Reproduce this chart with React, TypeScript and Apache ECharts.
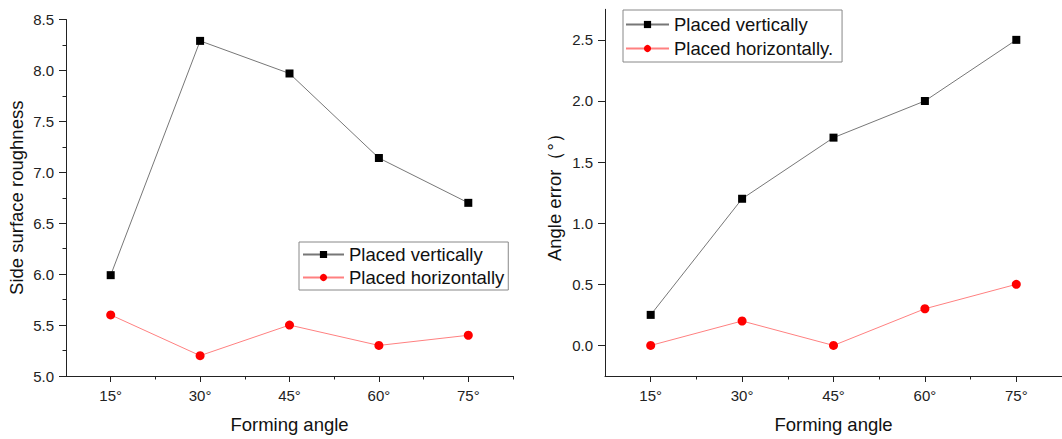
import React, { useEffect, useRef } from "react";
import * as echarts from "echarts";

const angles = [15, 30, 45, 60, 75];
const majorTicks = [15, 30, 45, 60, 75];
const minorXTicks = [22.5, 37.5, 52.5, 67.5, 82.5];

const roughVertical = [5.99, 8.29, 7.97, 7.14, 6.7];
const roughHorizontal = [5.6, 5.2, 5.5, 5.3, 5.4];

const errVertical = [0.25, 1.2, 1.7, 2.0, 2.5];
const errHorizontal = [0.0, 0.2, 0.0, 0.3, 0.5];

const errMajor = [0, 0.5, 1.0, 1.5, 2.0, 2.5];
const errMinor = [-0.25, 0.25, 0.75, 1.25, 1.75, 2.25, 2.75];

const FONT = "Liberation Sans, Arial, sans-serif";
const AX = "#222";

function pairs(xs: number[], ys: number[]) {
  return xs.map((x, i) => [x, ys[i]]);
}

function mainX(grid: number) {
  return {
    type: "value",
    gridIndex: grid,
    position: "bottom",
    min: 7.5,
    max: 82.5,
    axisLine: { show: true, onZero: false, lineStyle: { color: AX, width: 1 } },
    axisTick: { show: true, customValues: majorTicks, length: 6, lineStyle: { color: AX } },
    axisLabel: {
      show: true,
      customValues: majorTicks,
      formatter: (v: number) => `${v}°`,
      margin: 12,
      fontSize: 15,
      color: "#222",
      fontFamily: FONT,
    },
    splitLine: { show: false },
    name: "Forming angle",
    nameLocation: "middle",
    nameGap: 39,
    nameTextStyle: { fontSize: 18.5, color: "#111", fontFamily: FONT },
  };
}

function minorX(grid: number) {
  return {
    type: "value",
    gridIndex: grid,
    position: "bottom",
    min: 7.5,
    max: 82.5,
    axisLine: { show: false, onZero: false },
    axisTick: { show: true, customValues: minorXTicks, length: 3.5, lineStyle: { color: AX } },
    axisLabel: { show: false },
    splitLine: { show: false },
  };
}

function seriesV(name: string, xi: number, yi: number, data: number[]) {
  return {
    name,
    type: "line",
    xAxisIndex: xi,
    yAxisIndex: yi,
    data: pairs(angles, data),
    symbol: "rect",
    symbolSize: 8,
    itemStyle: { color: "#000" },
    lineStyle: { color: "#777", width: 1 },
  };
}

function seriesH(name: string, xi: number, yi: number, data: number[]) {
  return {
    name,
    type: "line",
    xAxisIndex: xi,
    yAxisIndex: yi,
    data: pairs(angles, data),
    symbol: "circle",
    symbolSize: 9,
    itemStyle: { color: "#ff0000" },
    lineStyle: { color: "#ff8080", width: 1 },
  };
}

export default function App() {
  const ref = useRef<HTMLDivElement>(null);
  useEffect(() => {
    document.body.style.margin = "0";
    const chart = echarts.init(ref.current!, null, { renderer: "svg" });
    chart.setOption({
      animation: false,
      backgroundColor: "#fff",
      textStyle: { fontFamily: FONT },
      grid: [
        { left: 66, top: 19.5, width: 447, height: 359.5 },
        { left: 605, top: 9.3, width: 459, height: 370 },
      ],
      xAxis: [mainX(0), minorX(0), mainX(1), minorX(1)],
      yAxis: [
        {
          type: "value",
          gridIndex: 0,
          min: 5,
          max: 8.5,
          interval: 0.5,
          axisLine: { show: true, lineStyle: { color: AX, width: 1 } },
          axisTick: { show: true, length: 7, lineStyle: { color: AX } },
          minorTick: { show: true, splitNumber: 2, length: 3.5, lineStyle: { color: AX } },
          axisLabel: {
            formatter: (v: number) => v.toFixed(1),
            fontSize: 15,
            margin: 12,
            color: "#222",
            fontFamily: FONT,
          },
          splitLine: { show: false },
          name: "Side surface roughness",
          nameLocation: "middle",
          nameGap: 40,
          nameTextStyle: { fontSize: 18.5, color: "#111", fontFamily: FONT },
        },
        {
          type: "value",
          gridIndex: 1,
          min: -0.25,
          max: 2.75,
          axisLine: { show: true, onZero: false, lineStyle: { color: AX, width: 1 } },
          axisTick: { show: true, customValues: errMajor, length: 7, lineStyle: { color: AX } },
          axisLabel: {
            customValues: errMajor,
            formatter: (v: number) => v.toFixed(1),
            fontSize: 15,
            margin: 12,
            color: "#222",
            fontFamily: FONT,
          },
          splitLine: { show: false },
          name: "Angle error（°）",
          nameLocation: "middle",
          nameGap: 41,
          nameTextStyle: { fontSize: 18.5, color: "#111", fontFamily: FONT },
        },
        {
          type: "value",
          gridIndex: 1,
          min: -0.25,
          max: 2.75,
          axisLine: { show: false, onZero: false },
          axisTick: { show: true, customValues: errMinor, length: 3.5, lineStyle: { color: AX } },
          axisLabel: { show: false },
          splitLine: { show: false },
        },
      ],
      legend: [
        {
          data: ["Placed vertically", "Placed horizontally"],
          orient: "vertical",
          left: 299,
          top: 242,
          padding: [3, 4, 3, 3],
          itemWidth: 41,
          itemHeight: 9,
          itemGap: 4,
          borderColor: "#888",
          borderWidth: 1,
          textStyle: { fontSize: 18.5, color: "#111", fontFamily: FONT, lineHeight: 18 },
        },
        {
          data: ["Placed vertically", "Placed horizontally."],
          orient: "vertical",
          left: 623,
          top: 10,
          padding: [5, 9, 4, 2],
          itemWidth: 43,
          itemHeight: 9,
          itemGap: 5,
          borderColor: "#888",
          borderWidth: 1,
          textStyle: { fontSize: 18.5, color: "#111", fontFamily: FONT, lineHeight: 18 },
        },
      ],
      series: [
        seriesV("Placed vertically", 0, 0, roughVertical),
        seriesH("Placed horizontally", 0, 0, roughHorizontal),
        seriesV("Placed vertically", 2, 1, errVertical),
        seriesH("Placed horizontally.", 2, 1, errHorizontal),
      ],
    });
    return () => chart.dispose();
  }, []);
  return <div ref={ref} style={{ width: 1062, height: 439 }} />;
}
